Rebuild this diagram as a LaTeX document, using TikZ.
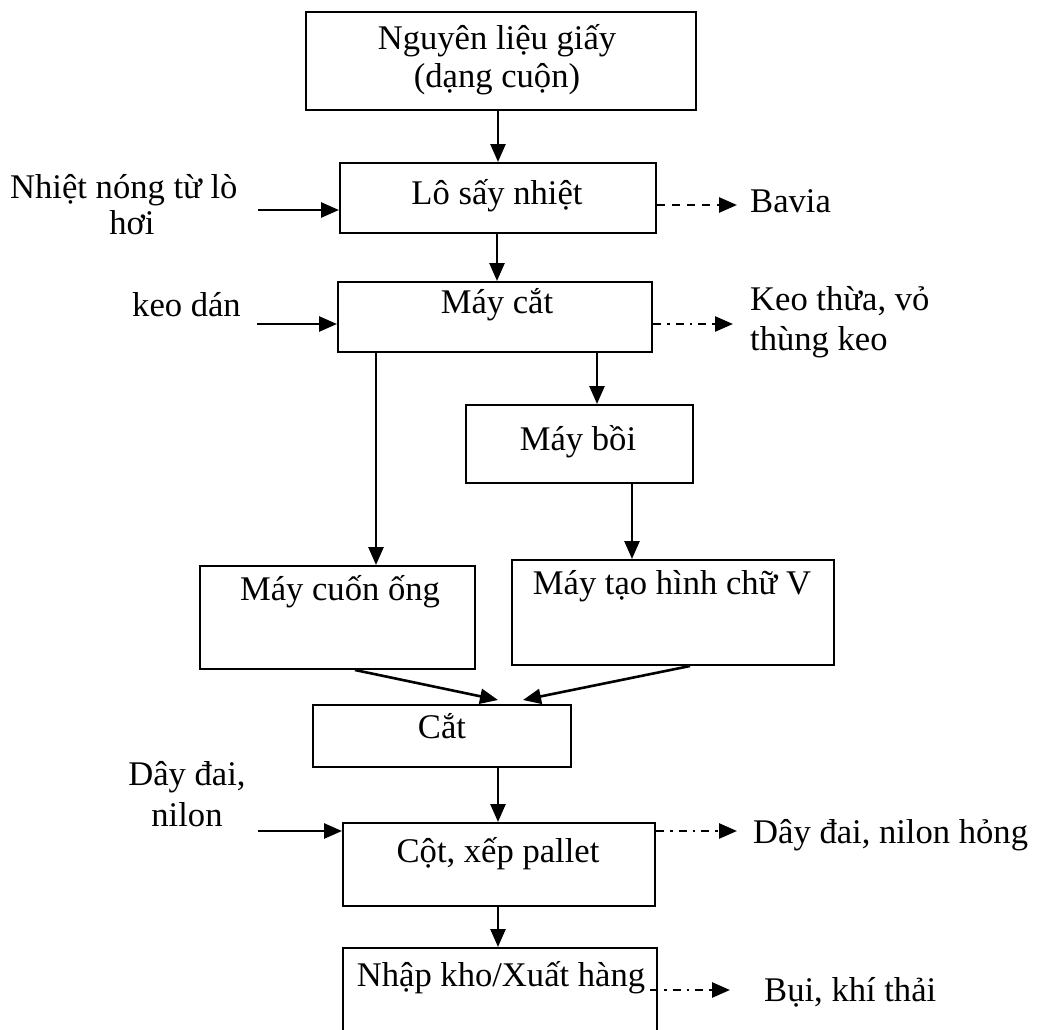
\documentclass[tikz,border=0pt]{standalone}
\usepackage{fontspec}
\setmainfont{Liberation Serif}
\usetikzlibrary{arrows.meta}
\tikzset{
  box/.style={draw, line width=2pt, inner sep=0pt, rectangle},
  txt/.style={anchor=base, inner sep=0pt, font=\fontsize{34.6}{40}\selectfont},
  txtl/.style={anchor=base west, inner sep=0pt, font=\fontsize{34.6}{40}\selectfont},
  arr/.style={line width=2.6pt, -{Triangle[length=18pt,width=15pt]}},
  dasharr/.style={arr, dash pattern=on 8pt off 7pt},
  dotdasharr/.style={arr, dash pattern=on 8pt off 6pt on 2.5pt off 6pt},
}
\begin{document}
\begin{tikzpicture}[x=1pt,y=-1pt]
\useasboundingbox (0,0) rectangle (1037,1029);
% boxes
\node[box, minimum width=390pt, minimum height=98pt] (b1) at (501,61) {};
\node[box, minimum width=316pt, minimum height=70pt] (b2) at (498,198) {};
\node[box, minimum width=314pt, minimum height=70pt] (b3) at (495,317) {};
\node[box, minimum width=227pt, minimum height=78pt] (b4) at (579.5,444) {};
\node[box, minimum width=275pt, minimum height=103pt] (b5) at (337.5,617.5) {};
\node[box, minimum width=322pt, minimum height=105pt] (b6) at (673,612.5) {};
\node[box, minimum width=258pt, minimum height=62pt] (b7) at (442,736) {};
\node[box, minimum width=312pt, minimum height=83pt] (b8) at (499,864.5) {};
\node[box, minimum width=314pt, minimum height=100pt] (b9) at (500,998) {};
% box texts
\node[txt] (t1a) at (497,49) {Nguyên liệu giấy};
\node[txt] (t1b) at (497,87) {(dạng cuộn)};
\node[txt] (t2) at (497,204) {Lô sấy nhiệt};
\node[txt] (t3) at (497,313) {Máy cắt};
\node[txt] (t4) at (578,450) {Máy bồi};
\node[txt] (t5) at (340,600) {Máy cuốn ống};
\node[txt] (t6) at (672,594) {Máy tạo hình chữ V};
\node[txt] (t7) at (442,738) {Cắt};
\node[txt] (t8) at (498,862) {Cột, xếp pallet};
\node[txt] (t9) at (501,986) {Nhập kho/Xuất hàng};
% side texts
\node[txtl] (n1a) at (10,198) {Nhiệt nóng từ lò};
\node[txt] (n1b) at (132,234) {hơi};
\node[txtl] (n2) at (132,316) {keo dán};
\node[txt] (n3a) at (187,785) {Dây đai,};
\node[txt] (n3b) at (187,826) {nilon};
\node[txtl] (o1) at (750,212) {Bavia};
\node[txtl] (o2a) at (750,310) {Keo thừa, vỏ};
\node[txtl] (o2b) at (750,350) {thùng keo};
\node[txtl] (o3) at (753,843) {Dây đai, nilon hỏng};
\node[txtl] (o4) at (764,1001) {Bụi, khí thải};
% coordinates
\coordinate (i1) at (258,210);
\coordinate (i2) at (257,324);
\coordinate (i3) at (258,831);
% main flow
\draw[arr] (b1.south -| 498,0) -- (b2.north -| 498,0);
\draw[arr] (b2.south -| 497,0) -- (b3.north -| 497,0);
\draw[arr] (b3.south -| 597,0) -- (b4.north -| 597,0);
\draw[arr] (b3.south -| 376,0) -- (b5.north -| 376,0);
\draw[arr] (b4.south -| 632,0) -- (b6.north -| 632,0);
\draw[arr] (b5.south -| 355,0) -- (498,700);
\draw[arr] (b6.south -| 690,0) -- (523,700);
\draw[arr] (b7.south -| 498,0) -- (b8.north -| 498,0);
\draw[arr] (b8.south -| 498,0) -- (b9.north -| 498,0);
% inputs
\draw[arr] (i1) -- (b2.west |- i1);
\draw[arr] (i2) -- (b3.west |- i2);
\draw[arr] (i3) -- (b8.west |- i3);
% outputs
\draw[dasharr] (b2.east |- 0,205) -- (737,205);
\draw[dotdasharr] (b3.east |- 0,324) -- (733,324);
\draw[dotdasharr] (b8.east |- 0,831) -- (737,831);
\draw[dotdasharr] (650,990) -- (730,990);
\end{tikzpicture}
\end{document}
